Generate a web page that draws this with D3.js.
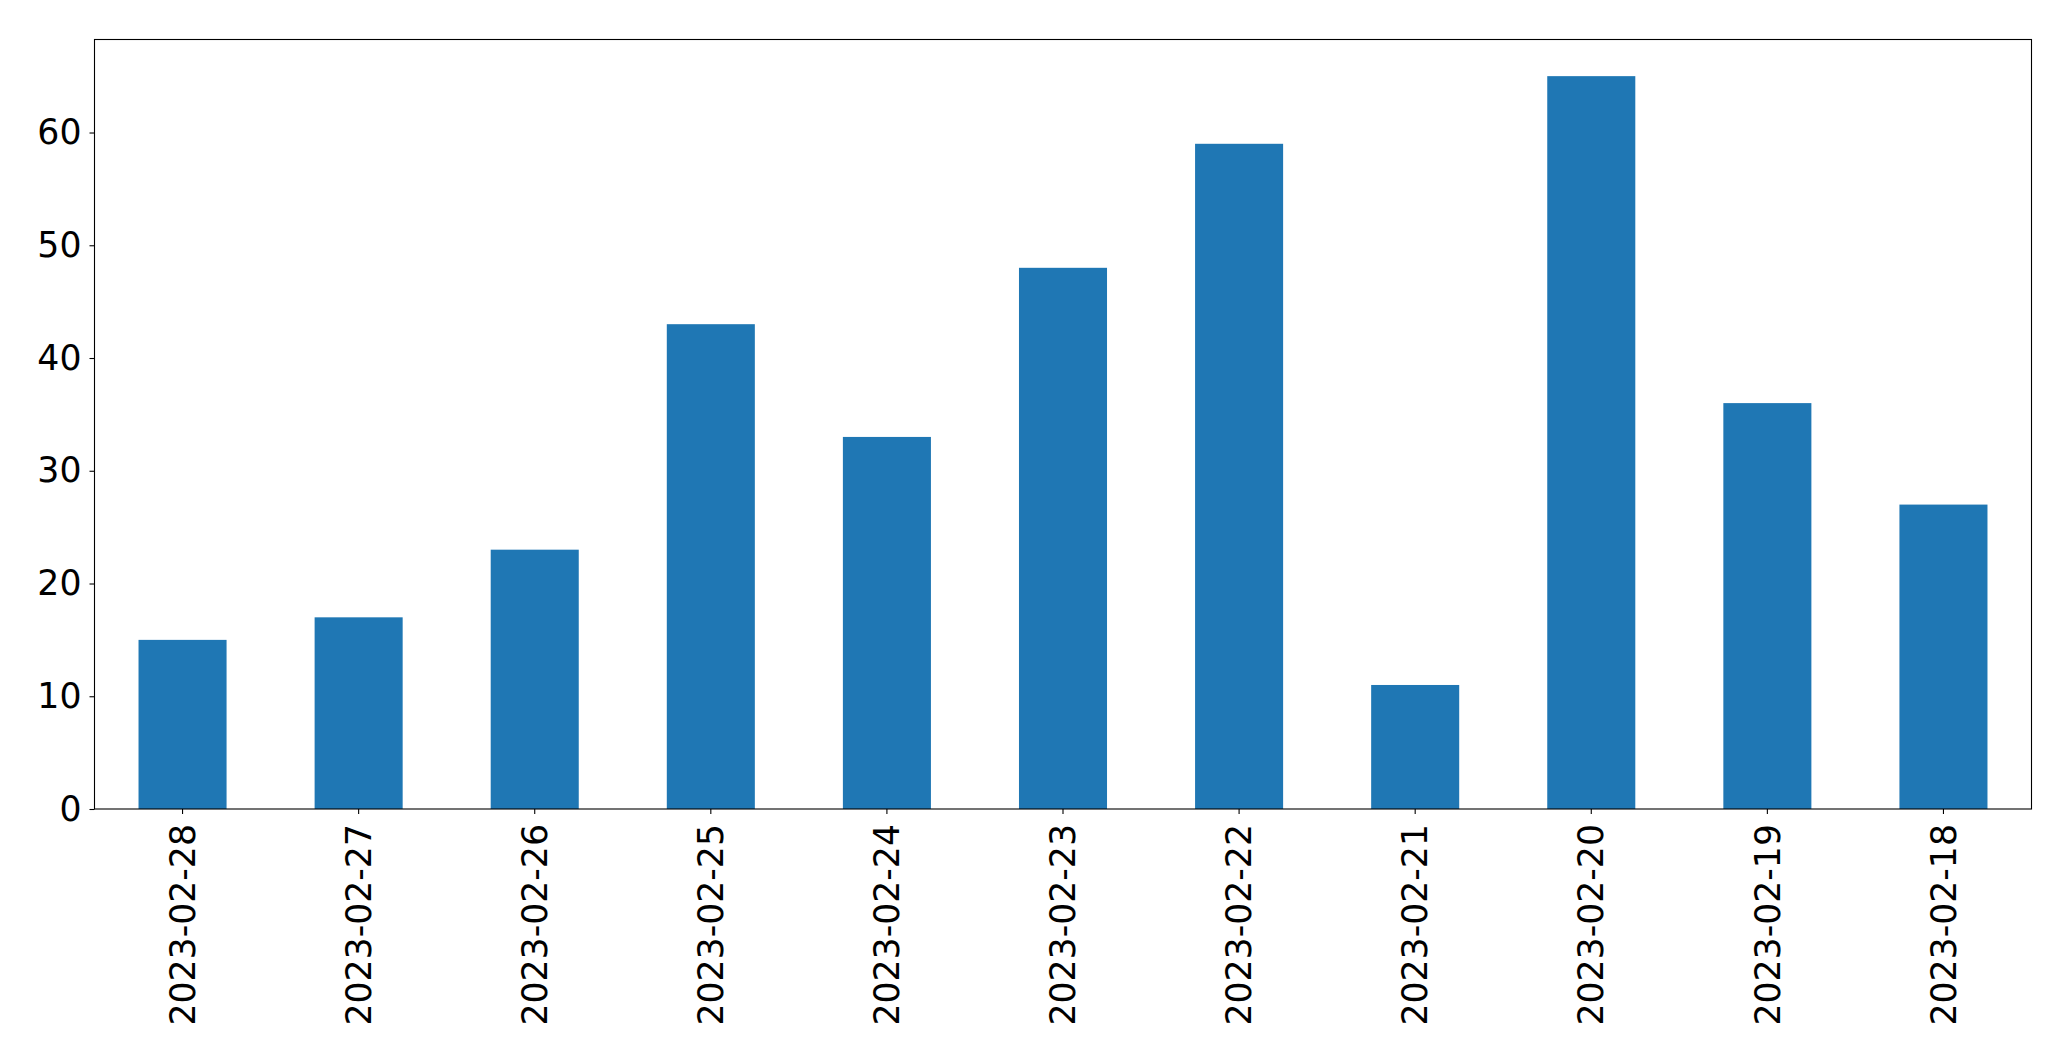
<!DOCTYPE html>
<html>
<head>
<meta charset="utf-8">
<script src="https://cdn.jsdelivr.net/npm/d3@7"></script>
<style>
  html, body { margin: 0; padding: 0; background: #fff; }
  svg { display: block; }
</style>
</head>
<body>
<svg id="chart" width="2071" height="1061"></svg>
<script>
const categories = ["2023-02-28","2023-02-27","2023-02-26","2023-02-25","2023-02-24","2023-02-23","2023-02-22","2023-02-21","2023-02-20","2023-02-19","2023-02-18"];
const values = [15, 17, 23, 43, 33, 48, 59, 11, 65, 36, 27];
const yTicks = [0, 10, 20, 30, 40, 50, 60];

const W = 2071, H = 1061;
const margin = {left: 94.5, right: W - 2031.5, top: 39.5, bottom: H - 809};
const svg = d3.select("#chart");
const fontFamily = "'DejaVu Sans', sans-serif";
const fontSize = 34.7;

const x = d3.scaleBand()
  .domain(categories)
  .range([margin.left, W - margin.right])
  .paddingInner(0.5)
  .paddingOuter(0.25);

const yMax = d3.max(values) * 1.05;
const y = d3.scaleLinear().domain([0, yMax]).range([H - margin.bottom, margin.top]);

// bars
svg.append("g").selectAll("rect")
  .data(values)
  .join("rect")
  .attr("x", (d, i) => x(categories[i]))
  .attr("width", x.bandwidth())
  .attr("y", d => y(d))
  .attr("height", d => y(0) - y(d))
  .attr("fill", "#1f77b4");

// y axis
const yAxis = svg.append("g")
  .attr("transform", `translate(${margin.left},0)`)
  .call(d3.axisLeft(y).tickValues(yTicks).tickSize(5).tickPadding(8).tickFormat(d3.format("d")));
yAxis.select(".domain").remove();
yAxis.selectAll("line").attr("stroke", "#000").attr("stroke-width", 1.1);
yAxis.selectAll("text").attr("font-family", fontFamily).attr("font-size", fontSize).attr("fill", "#000");

// x axis
const xAxis = svg.append("g")
  .attr("transform", `translate(0,${H - margin.bottom})`)
  .call(d3.axisBottom(x).tickSize(5).tickPadding(0));
xAxis.select(".domain").remove();
xAxis.selectAll("line").attr("stroke", "#000").attr("stroke-width", 1.1);
xAxis.selectAll("text")
  .attr("font-family", fontFamily)
  .attr("font-size", fontSize)
  .attr("fill", "#000")
  .attr("text-anchor", "end")
  .attr("dy", "0.35em")
  .attr("transform", "translate(0,15) rotate(-90)")
  .attr("x", 0)
  .attr("y", 0);

// frame
svg.append("rect")
  .attr("x", margin.left)
  .attr("y", margin.top)
  .attr("width", W - margin.right - margin.left)
  .attr("height", H - margin.bottom - margin.top)
  .attr("fill", "none")
  .attr("stroke", "#000")
  .attr("stroke-width", 1.1);
</script>
</body>
</html>
